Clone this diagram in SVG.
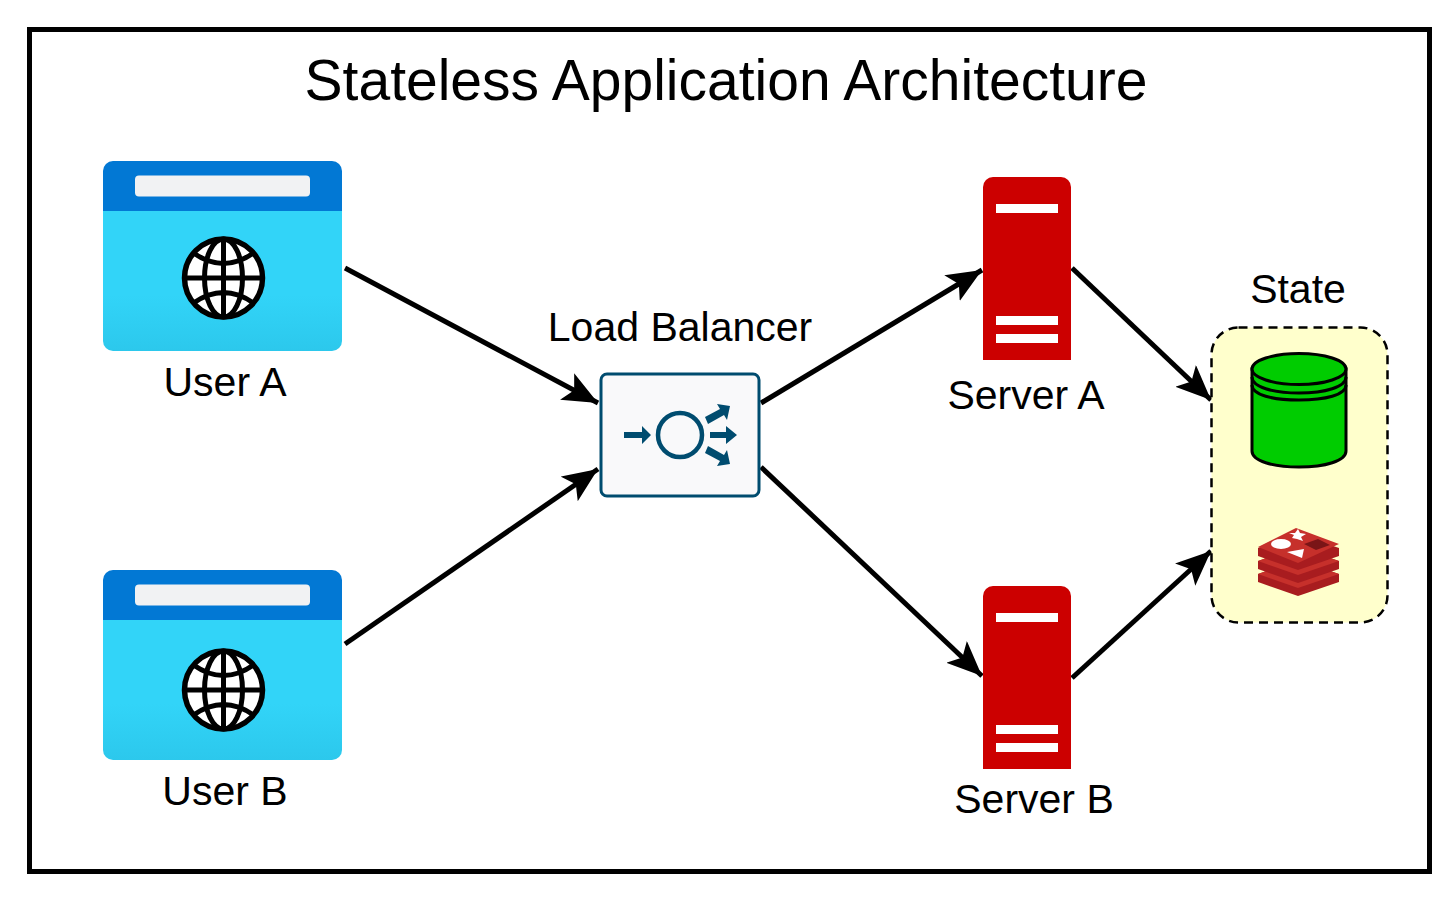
<svg xmlns="http://www.w3.org/2000/svg" width="1456" height="899" viewBox="0 0 1456 899">
<style>
text{font-family:"Liberation Sans",Arial,sans-serif;fill:#000;text-anchor:middle}
.l{font-size:41px}
.c{fill:none;stroke:#000;stroke-width:5}
.g{fill:none;stroke:#000;stroke-width:5}
.lb{fill:#004c6f}
</style>
<defs>
<marker id="a" markerUnits="userSpaceOnUse" markerWidth="40" markerHeight="34" refX="35" refY="15" orient="auto"><path d="M0 0L35 15L0 30L8 15Z" fill="#000"/></marker>
<linearGradient id="sky" x1="0" y1="0" x2="0" y2="1"><stop offset="0" stop-color="#32d4f8"/><stop offset="0.6" stop-color="#32d4f8"/><stop offset="1" stop-color="#2cc8ec"/></linearGradient>
<g id="browser">
<path d="M103 211H342V341a10 10 0 0 1-10 10H113a10 10 0 0 1-10-10Z" fill="url(#sky)"/>
<path d="M103 211V171a10 10 0 0 1 10-10H332a10 10 0 0 1 10 10V211Z" fill="#0278d4"/>
<rect x="135" y="175.500" width="175" height="21" rx="4" fill="#f1f2f3"/>
</g>
<g id="globe">
<circle cx="0" cy="0" r="39" fill="#fff" stroke="#000" stroke-width="5.500"/>
<ellipse cx="0" cy="0" rx="19" ry="39" class="g"/>
<path d="M0-39V39M-39 0H39M-30-25Q0-4 30-25M-30 25Q0 4 30 25" class="g"/>
</g>
<g id="server">
<path d="M983 360V187a10 10 0 0 1 10-10H1061a10 10 0 0 1 10 10V360Z" fill="#cc0000"/>
<rect x="996" y="204" width="62" height="9" fill="#fff"/>
<rect x="996" y="316" width="62" height="9" fill="#fff"/>
<rect x="996" y="334" width="62" height="9" fill="#fff"/>
</g>
</defs>
<rect x="29.500" y="29.500" width="1400" height="842" fill="#fff" stroke="#000" stroke-width="5"/>
<text id="title" x="726" y="100" font-size="57">Stateless Application Architecture</text>
<g id="connectors">
<path class="c" d="M345 268L598 403" marker-end="url(#a)"/>
<path class="c" d="M345 644L598 469" marker-end="url(#a)"/>
<path class="c" d="M761 403L982 270" marker-end="url(#a)"/>
<path class="c" d="M761 467L982 676" marker-end="url(#a)"/>
<path class="c" d="M1072 268L1211 400" marker-end="url(#a)"/>
<path class="c" d="M1072 678L1211 551" marker-end="url(#a)"/>
</g>
<g id="user-a">
<use href="#browser"/>
<use href="#globe" transform="translate(223.500 278)"/>
<text class="l" x="225" y="396">User A</text>
</g>
<g id="user-b">
<use href="#browser" transform="translate(0 409)"/>
<use href="#globe" transform="translate(223.500 690)"/>
<text class="l" x="225" y="805">User B</text>
</g>
<g id="load-balancer">
<text class="l" x="680" y="341">Load Balancer</text>
<rect x="601" y="374" width="158" height="122" rx="6" fill="#f9f9fa" stroke="#004c6f" stroke-width="3"/>
<circle cx="680" cy="435" r="22" fill="none" stroke="#004c6f" stroke-width="4.500"/>
<path class="lb" d="M624 432H642V426L651 435L642 444V438H624Z"/>
<path class="lb" d="M710 432H726V426L737 435L726 444V438H710Z"/>
<path class="lb" d="M705 417L720 409L717 404L730 406L727 420L724 415L708 424Z"/>
<path class="lb" d="M708 446L724 455L727 450L730 464L717 466L720 461L705 453Z"/>
</g>
<g id="server-a">
<use href="#server"/>
<text class="l" x="1026" y="409">Server A</text>
</g>
<g id="server-b">
<use href="#server" transform="translate(0 409)"/>
<text class="l" x="1034" y="813">Server B</text>
</g>
<g id="state">
<text class="l" x="1298" y="303">State</text>
<rect x="1211.500" y="327.500" width="176" height="295" rx="27" fill="#ffffcc" stroke="#000" stroke-width="2.500" stroke-dasharray="9 6"/>
<path d="M1252 369V451C1252 461 1273 467 1299 467S1346 461 1346 451V369Z" fill="#00cc00" stroke="#000" stroke-width="3"/>
<ellipse cx="1299" cy="369" rx="47" ry="15.500" fill="#00cc00" stroke="#000" stroke-width="3"/>
<path d="M1252 377C1252 387 1273 393 1299 393S1346 387 1346 377M1252 385C1252 395 1273 400 1299 400S1346 395 1346 385" fill="none" stroke="#000" stroke-width="3"/>
<path d="M1258 574V582L1298 596L1339 582V574L1298 560Z" fill="#a81c1f"/>
<path d="M1258 574L1298 588L1339 574L1298 560Z" fill="#c6302b"/>
<path d="M1258 561V569L1298 583L1339 569V561L1298 547Z" fill="#a81c1f"/>
<path d="M1258 561L1298 575L1339 561L1298 547Z" fill="#c6302b"/>
<path d="M1258 548V556L1298 570L1339 556V548L1298 534Z" fill="#a81c1f"/>
<path d="M1258 547L1296 528L1339 544L1298 563Z" fill="#c6302b"/>
<ellipse cx="1281" cy="544" rx="10" ry="5" fill="#fff"/>
<path d="M1298 529L1300 533L1306 534L1301 537L1303 541L1297 539L1292 538L1294 535L1289 533L1295 533Z" fill="#fff"/>
<path d="M1287 552L1304 549L1302 558Z" fill="#fff"/>
<path d="M1304 544L1318 539L1330 545L1316 550Z" fill="#7a1517"/>
</g>
</svg>
